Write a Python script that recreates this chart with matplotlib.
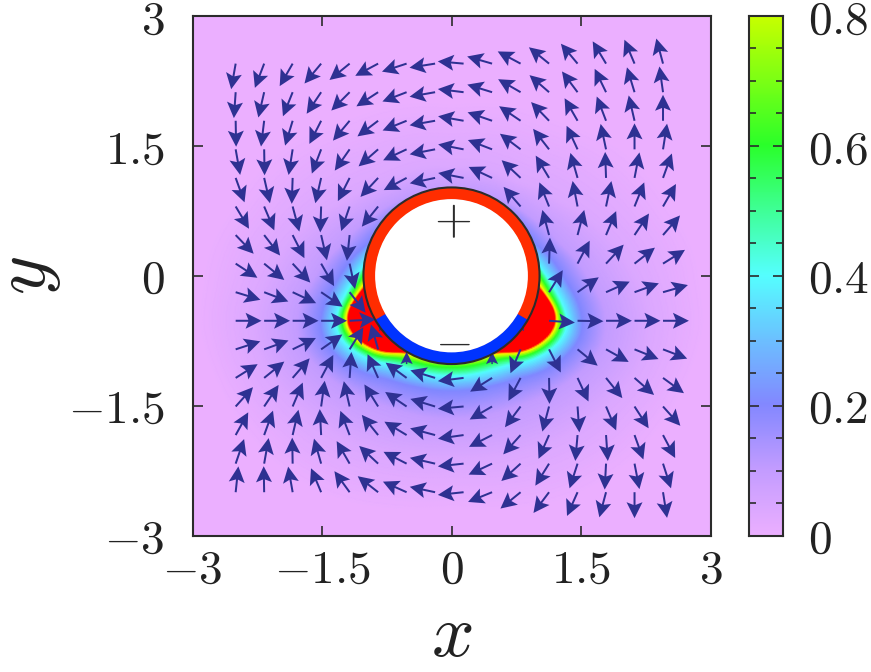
import numpy as np
import matplotlib
matplotlib.use('Agg')
import matplotlib.pyplot as plt
from matplotlib.colors import LinearSegmentedColormap
from matplotlib.patches import Circle, Wedge

plt.rcParams['mathtext.fontset'] = 'cm'
plt.rcParams['font.family'] = 'DejaVu Sans'

W, H = 871, 672
n = np.nan

# arrow grid
grid_x = [-2.5, -2.17, -1.84, -1.51, -1.18, -0.85, -0.52, -0.19, 0.14, 0.47, 0.8, 1.13, 1.46, 1.79, 2.12, 2.45]
grid_y = [2.45, 2.12, 1.79, 1.46, 1.13, 0.8, 0.47, 0.14, -0.19, -0.52, -0.85, -1.18, -1.51, -1.84, -2.17, -2.5]
arrow_len = 0.30

# arrow direction in degrees, one row per grid_y, hidden ones are nan
angles = [
    [260, 249, 240, 230, 219, 208, 198, 189, 175, 164, 152, 141, 130, 121, 113, 105],
    [266, 257, 248, 236, 225, 213, 201, 190, 173, 163, 150, 139, 127, 116, 107, 98],
    [271, 263, 253, 243, 230, 217, 202, 190, 170, 161, 146, 134, 120, 111, 103, 90],
    [280, 271, 261, 249, 235, 221, 205, 191, 169, 159, 143, 128, 115, 102, 90, 81],
    [290, 283, 268, 257, 243, 227, 208, 192, 169, 155, 137, 121, 106, 92, 79, 70],
    [301, 293, 285, 268, 251, 231, n, n, n, n, 131, 112, 101, 78, 68, 60],
    [314, 308, 297, 283, 264, n, n, n, n, n, n, 105, 75, 67, 56, 49],
    [327, 321, 313, 300, 282, n, n, n, n, n, n, 88, 62, 47, 38, 32],
    [343, 339, 335, 326, 308, n, n, n, n, n, n, 58, 35, 24, 20, 16],
    [0, 0, 0, 0, 3, n, n, n, n, n, n, 356, 359, 0, 0, 0],
    [18, 20, 26, 35, 58, 106, n, n, n, n, 247, 297, 321, 331, 338, 339],
    [32, 39, 49, 62, 86, 114, 144, 163, 187, 212, 242, 271, 295, 309, 319, 324],
    [48, 56, 67, 82, 103, 122, 146, 163, 185, 210, 233, 255, 274, 293, 303, 312],
    [61, 70, 77, 93, 111, 129, 149, 165, 188, 207, 228, 246, 265, 274, 290, 298],
    [71, 80, 91, 106, 120, 137, 153, 167, 186, 205, 222, 238, 252, 267, 281, 288],
    [84, 91, 100, 113, 126, 142, 156, 168, 186, 202, 219, 233, 246, 255, 270, 279],
]

# heads that stick out from under the ring
stub_x = [-0.52, 0.47, 0.76, -0.76]
stub_y = [-1.02, -1.02, -0.52, -0.52]
stub_u = [0, 0, 0.08, -0.08]
stub_v = [0.14, 0.14, -0.12, -0.12]

# colour field, read as radius of each contour line per angle from the bottom of the disk
field_levels = [0.97, 0.85, 0.6, 0.4, 0.2, 0.1, 0.04, 0.0]
phi_deg = [0, 15, 25, 33, 44, 54, 62, 68, 72, 77, 81, 86, 90, 100, 105, 110, 125, 145, 180]
contour_r = [
    [0.90, 0.96, 1.06, 1.16, 1.34, 1.65, 2.10, 2.70],
    [0.95, 1.00, 1.07, 1.17, 1.35, 1.66, 2.15, 2.80],
    [0.99, 1.02, 1.09, 1.19, 1.38, 1.68, 2.20, 2.90],
    [1.04, 1.07, 1.13, 1.22, 1.42, 1.72, 2.25, 2.95],
    [1.20, 1.23, 1.28, 1.35, 1.54, 1.80, 2.30, 3.00],
    [1.29, 1.32, 1.37, 1.44, 1.62, 1.87, 2.35, 3.00],
    [1.33, 1.36, 1.41, 1.48, 1.66, 1.92, 2.40, 3.00],
    [1.305, 1.335, 1.385, 1.455, 1.65, 1.92, 2.40, 3.00],
    [1.25, 1.28, 1.33, 1.40, 1.60, 1.88, 2.40, 3.00],
    [1.14, 1.17, 1.23, 1.31, 1.53, 1.83, 2.35, 3.00],
    [1.05, 1.09, 1.15, 1.24, 1.46, 1.76, 2.30, 3.00],
    [0.96, 1.01, 1.08, 1.16, 1.36, 1.65, 2.20, 2.90],
    [0.90, 0.96, 1.03, 1.10, 1.30, 1.57, 2.10, 2.90],
    [0.85, 0.90, 0.95, 0.99, 1.18, 1.42, 1.95, 2.80],
    [0.83, 0.87, 0.91, 0.95, 1.12, 1.33, 1.85, 2.70],
    [0.80, 0.84, 0.88, 0.92, 1.05, 1.28, 1.75, 2.65],
    [0.70, 0.75, 0.80, 0.88, 0.98, 1.15, 1.50, 2.50],
    [0.65, 0.70, 0.75, 0.82, 0.92, 1.06, 1.32, 2.20],
    [0.60, 0.65, 0.70, 0.78, 0.88, 0.98, 1.25, 2.00],
]

# colormap, value -> colour
cmap_vals = [0.0, 0.1, 0.2, 0.3, 0.4, 0.5, 0.6, 0.7, 0.8, 0.86, 0.91, 0.97, 1.0]
cmap_cols = ['#ebafff', '#c39cff', '#8388ff', '#6cc0ff', '#55ffff', '#3fff96', '#2aff2a',
             '#7bff15', '#c8ff00', '#ffff00', '#ffa000', '#ff0000', '#ff0000']

xticks = [-3, -1.5, 0, 1.5, 3]
yticks = [-3, -1.5, 0, 1.5, 3]
tick_labels = ['$-3$', '$-1.5$', '$0$', '$1.5$', '$3$']
cb_ticks = [0, 0.2, 0.4, 0.6, 0.8]
cb_labels = ['$0$', '$0.2$', '$0.4$', '$0.6$', '$0.8$']
cb_minor = [0.05, 0.1, 0.15, 0.25, 0.3, 0.35, 0.45, 0.5, 0.55, 0.65, 0.7, 0.75]

dark = '#2b2b2b'
cmap = LinearSegmentedColormap.from_list('field', list(zip(cmap_vals, cmap_cols)), N=512)

fig = plt.figure(figsize=(W / 100, H / 100), dpi=100)
ax = fig.add_axes([192.5 / W, 1 - 535.5 / H, 518 / W, 519.5 / H])

# build the field on a polar mesh from the contour table
contour_r = np.array(contour_r)
phi_fine = np.linspace(0, 180, 361)
r_fine = np.linspace(0.6, 4.4, 760)
w = 17  # rounds off the corners of the lobes
radii = []
for k in range(len(field_levels)):
    c = np.interp(phi_fine, phi_deg, contour_r[:, k])
    radii.append(np.convolve(np.pad(c, w // 2, mode='edge'), np.ones(w) / w, mode='valid'))
radii = np.array(radii)
Z = np.zeros((len(phi_fine), len(r_fine)))
for i in range(len(phi_fine)):
    Z[i] = np.interp(r_fine, radii[:, i], field_levels, left=1.0, right=0.0)
R, P = np.meshgrid(r_fine, np.radians(phi_fine))
X = R * np.sin(P)
Y = -R * np.cos(P)
ax.pcolormesh(X, Y, Z, cmap=cmap, vmin=0, vmax=1, shading='gouraud', zorder=1)
ax.pcolormesh(-X, Y, Z, cmap=cmap, vmin=0, vmax=1, shading='gouraud', zorder=1)

# arrows
th = np.radians(np.array(angles, dtype=float))
gx, gy = np.meshgrid(grid_x, grid_y)
u = np.ma.masked_invalid(arrow_len * np.cos(th))
v = np.ma.masked_invalid(arrow_len * np.sin(th))
arrow_kw = dict(angles='xy', scale_units='xy', scale=1, color='#2e3192', units='dots',
                width=2.0, headwidth=8.0, headlength=8.0, headaxislength=6.6, zorder=3)
ax.quiver(gx, gy, u, v, **arrow_kw)
ax.quiver(stub_x, stub_y, stub_u, stub_v, **arrow_kw)

# the disk
ax.add_patch(Wedge((0, 0), 1.02, -30, 210, width=0.14, fc='#ff2d00', ec='none', zorder=4))
ax.add_patch(Wedge((0, 0), 1.02, 210, 330, width=0.14, fc='#0033ff', ec='none', zorder=4))
ax.add_patch(Circle((0, 0), 0.885, fc='white', ec='none', zorder=5))
ax.add_patch(Circle((0, 0), 1.02, fc='none', ec=dark, lw=1.5, zorder=6))
ax.text(0.01, 0.64, '$+$', fontsize=35, ha='center', va='center', color=dark, zorder=7)
ax.text(0.01, -0.76, '$-$', fontsize=35, ha='center', va='center', color=dark, zorder=7)

ax.set_xlim(-3, 3)
ax.set_ylim(-3, 3)
ax.set_xticks(xticks)
ax.set_xticklabels(tick_labels)
ax.set_yticks(yticks)
ax.set_yticklabels(tick_labels)
ax.tick_params(direction='in', length=7.2, width=1.2, color=dark, top=True, right=True,
               labelsize=34, labelcolor='#222222')
ax.tick_params(axis='x', pad=9)
ax.tick_params(axis='y', pad=20)
for s in ax.spines.values():
    s.set_linewidth(1.5)
    s.set_color(dark)
ax.set_xlabel('$x$', fontsize=54, color='#222222', labelpad=4)
ax.set_ylabel('$y$', fontsize=54, color='#222222', labelpad=4)

# colour bar
cax = fig.add_axes([748.5 / W, 1 - 535.5 / H, 34.5 / W, 519.5 / H])
cb_vals = np.linspace(0, 0.8, 400).reshape(-1, 1)
cax.imshow(cb_vals, extent=[0, 1, 0, 0.8], origin='lower', aspect='auto', cmap=cmap, vmin=0, vmax=1)
cax.set_xticks([])
cax.set_yticks(cb_ticks)
cax.set_yticklabels(cb_labels)
cax.set_yticks(cb_minor, minor=True)
cax.yaxis.tick_right()
cax.tick_params(axis='y', which='major', direction='in', length=7.2, width=1.2, color=dark, left=True,
                right=True, labelsize=34, labelcolor='#222222', pad=18)
cax.tick_params(axis='y', which='minor', direction='in', length=5, width=1.2, color=dark, left=True, right=True)
for s in cax.spines.values():
    s.set_linewidth(1.5)
    s.set_color(dark)

fig.savefig('out.png', dpi=100)
